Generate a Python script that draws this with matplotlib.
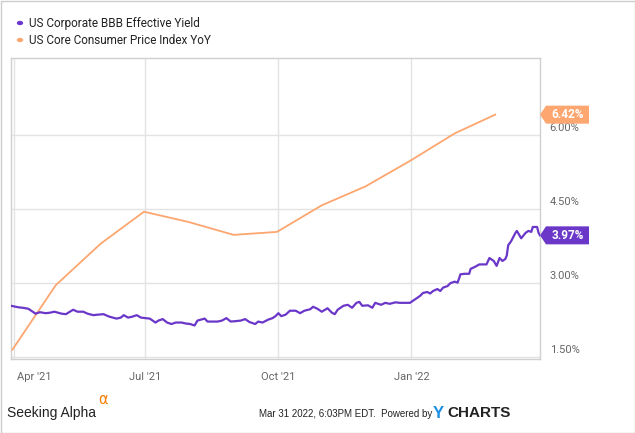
import numpy as np
import pandas as pd
import matplotlib
matplotlib.use("Agg")
import matplotlib.pyplot as plt
from matplotlib.patches import Polygon, Rectangle, Circle
import matplotlib.dates as mdates

# US Corporate BBB Effective Yield
bbb_dates = [
    "2021-03-30", "2021-04-04", "2021-04-07", "2021-04-11", "2021-04-14", "2021-04-16",
    "2021-04-19", "2021-04-23", "2021-04-26", "2021-04-29", "2021-05-04", "2021-05-07",
    "2021-05-12", "2021-05-15", "2021-05-19", "2021-05-22", "2021-05-26", "2021-05-29",
    "2021-06-02", "2021-06-06", "2021-06-11", "2021-06-14", "2021-06-16", "2021-06-19",
    "2021-06-22", "2021-06-25", "2021-06-28", "2021-07-01", "2021-07-04", "2021-07-08",
    "2021-07-10", "2021-07-13", "2021-07-16", "2021-07-19", "2021-07-22", "2021-07-26",
    "2021-07-29", "2021-08-01", "2021-08-04", "2021-08-06", "2021-08-11", "2021-08-13",
    "2021-08-17", "2021-08-20", "2021-08-23", "2021-08-26", "2021-08-29", "2021-09-02",
    "2021-09-05", "2021-09-08", "2021-09-11", "2021-09-15", "2021-09-17", "2021-09-20",
    "2021-09-24", "2021-09-27", "2021-09-29", "2021-10-01", "2021-10-03", "2021-10-06",
    "2021-10-09", "2021-10-13", "2021-10-16", "2021-10-19", "2021-10-23", "2021-10-25",
    "2021-10-28", "2021-10-31", "2021-11-04", "2021-11-07", "2021-11-09", "2021-11-11",
    "2021-11-15", "2021-11-18", "2021-11-21", "2021-11-24", "2021-11-26", "2021-11-28",
    "2021-12-02", "2021-12-05", "2021-12-07", "2021-12-11", "2021-12-14", "2021-12-17",
    "2021-12-21", "2021-12-24", "2021-12-28", "2021-12-31", "2022-01-04", "2022-01-07",
    "2022-01-09", "2022-01-12", "2022-01-14", "2022-01-16", "2022-01-19", "2022-01-21",
    "2022-01-23", "2022-01-26", "2022-01-28", "2022-01-31", "2022-02-02", "2022-02-04",
    "2022-02-07", "2022-02-10", "2022-02-11", "2022-02-14", "2022-02-17", "2022-02-20",
    "2022-02-22", "2022-02-24", "2022-02-27", "2022-03-01", "2022-03-03", "2022-03-05",
    "2022-03-07", "2022-03-08", "2022-03-09", "2022-03-11", "2022-03-14", "2022-03-15",
    "2022-03-18", "2022-03-21", "2022-03-23", "2022-03-25", "2022-03-26", "2022-03-29",
    "2022-03-30", "2022-03-31",
]
bbb_values = [
    2.54, 2.51, 2.50, 2.48, 2.42, 2.38,
    2.41, 2.39, 2.40, 2.42, 2.38, 2.37,
    2.46, 2.42, 2.42, 2.38, 2.35, 2.36,
    2.37, 2.32, 2.28, 2.30, 2.35, 2.30,
    2.32, 2.35, 2.30, 2.29, 2.28, 2.20,
    2.24, 2.27, 2.20, 2.17, 2.20, 2.20,
    2.18, 2.17, 2.14, 2.24, 2.28, 2.22,
    2.22, 2.22, 2.24, 2.29, 2.22, 2.23,
    2.24, 2.27, 2.21, 2.17, 2.22, 2.20,
    2.26, 2.29, 2.33, 2.39, 2.33, 2.36,
    2.44, 2.44, 2.39, 2.44, 2.47, 2.52,
    2.48, 2.42, 2.49, 2.40, 2.37, 2.46,
    2.54, 2.56, 2.50, 2.60, 2.62, 2.54,
    2.55, 2.50, 2.60, 2.56, 2.60, 2.58,
    2.61, 2.60, 2.60, 2.60, 2.68, 2.74,
    2.80, 2.82, 2.79, 2.84, 2.88, 2.84,
    2.91, 2.94, 3.00, 3.03, 3.01, 3.18,
    3.19, 3.19, 3.29, 3.33, 3.38, 3.38,
    3.38, 3.51, 3.45, 3.35, 3.51, 3.45,
    3.49, 3.56, 3.77, 3.85, 4.02, 4.06,
    3.91, 4.02, 4.06, 4.04, 4.14, 4.14,
    4.02, 3.97,
]

# US Core Consumer Price Index YoY (monthly)
cpi_dates = ["2021-03-31", "2021-04-30", "2021-05-31", "2021-06-30", "2021-07-31",
             "2021-08-31", "2021-09-30", "2021-10-31", "2021-11-30", "2021-12-31",
             "2022-01-31", "2022-02-28"]
cpi_values = [1.65, 2.96, 3.80, 4.45, 4.24, 3.98, 4.04, 4.58, 4.96, 5.48, 6.04, 6.42]

series_names = ["US Corporate BBB Effective Yield", "US Core Consumer Price Index YoY"]
yticks = [1.5, 3.0, 4.5, 6.0]
xtick_dates = ["2021-04-01", "2021-07-01", "2021-10-01", "2022-01-01"]
xtick_labels = ["Apr '21", "Jul '21", "Oct '21", "Jan '22"]

PURPLE = "#6a37c9"
ORANGE = "#fda66f"
GRID = "#e3e3e3"
TXT = "#666666"

plt.rcParams["font.family"] = ["Roboto", "DejaVu Sans"]

W, H = 635, 433
fig = plt.figure(figsize=(W / 100, H / 100), dpi=100)
ax = fig.add_axes([11 / W, (H - 359) / H, (540 - 11) / W, (359 - 58) / H])

bd = pd.to_datetime(bbb_dates)
cd = pd.to_datetime(cpi_dates)
ax.plot(cd, cpi_values, color=ORANGE, lw=1.3, solid_joinstyle="miter", zorder=3)
ax.plot(bd, bbb_values, color=PURPLE, lw=1.6, zorder=4)

ax.set_xlim(pd.Timestamp("2021-03-30"), pd.Timestamp("2022-03-31"))
ax.set_ylim(1.46, 7.57)

for v in yticks:
    ax.axhline(v, color=GRID, lw=1, zorder=1)
for d in xtick_dates:
    ax.axvline(pd.Timestamp(d), color=GRID, lw=1, zorder=1)

ax.set_xticks([])
ax.set_yticks([])
for s in ax.spines.values():
    s.set_color("#d0d0d0")
    s.set_linewidth(1)

# y labels to the right, slightly above the gridlines
for v in yticks:
    ax.annotate(f"{v:.2f}%", xy=(1, v), xycoords=("axes fraction", "data"),
                xytext=(7, 5), textcoords="offset points", fontsize=8,
                color=TXT, ha="left", va="center")

# x labels
for d, lab in zip(xtick_dates, xtick_labels):
    x = pd.Timestamp(d)
    if lab == "Apr '21":
        x = pd.Timestamp("2021-04-15")
    ax.annotate(lab, xy=(mdates.date2num(x), 0), xycoords=("data", "axes fraction"),
                xytext=(0, -13), textcoords="offset points", fontsize=8,
                color=TXT, ha="center", va="center")

# value tags at the right edge
fig.canvas.draw()
for val, col in [(cpi_values[-1], ORANGE), (bbb_values[-1], PURPLE)]:
    yd = ax.transData.transform((0, val))[1] / H
    x0 = 540 / W
    x1 = 546 / W
    x2 = 589 / W
    hh = 9 / H
    poly = Polygon([(x0, yd), (x1, yd + hh), (x2, yd + hh), (x2, yd - hh), (x1, yd - hh)],
                   closed=True, transform=fig.transFigure, facecolor=col,
                   edgecolor="none", zorder=5)
    fig.add_artist(poly)
    fig.text((x1 + x2) / 2, yd, f"{val:.2f}%", color="white", fontsize=8.5,
             fontweight="bold", ha="center", va="center", zorder=6)

# legend
for i, (name, col) in enumerate(zip(series_names, [PURPLE, ORANGE])):
    yy = 1 - (23 + 17 * i) / H
    fig.add_artist(Circle((20 / W, yy), 3.2 / W, transform=fig.transFigure,
                          facecolor=col, edgecolor="none"))
    fig.text(29 / W, yy, name, fontsize=8.5, color="#222222", ha="left", va="center")

# footer
fig.text(7 / W, 1 - 413 / H, "Seeking Alpha", fontsize=10, color="#222222",
         ha="left", va="center", family=["Liberation Sans", "DejaVu Sans"])
fig.text(98 / W, 1 - 400 / H, "α", fontsize=10.5, color="#f57c00",
         ha="left", va="center", family=["DejaVu Sans"])
fig.text(432 / W, 1 - 414 / H, "Mar 31 2022, 6:03PM EDT.  Powered by", fontsize=7,
         color="#222222", ha="right", va="center",
         family=["Liberation Sans Narrow", "Liberation Sans", "DejaVu Sans"])
fig.text(433 / W, 1 - 413 / H, "Y", fontsize=12, color="#1a8fe3", fontweight="bold",
         ha="left", va="center", family=["Liberation Sans", "DejaVu Sans"])
fig.text(447 / W, 1 - 413 / H, "CHARTS", fontsize=11, color="#222222", fontweight="bold",
         ha="left", va="center", family=["Liberation Sans", "DejaVu Sans"])

# outer border
fig.add_artist(Rectangle((0.5 / W, 0.5 / H), 1 - 1 / W, 1 - 1 / H, transform=fig.transFigure,
                         facecolor="none", edgecolor="#cccccc", lw=1))

fig.savefig("out.png", dpi=100)
